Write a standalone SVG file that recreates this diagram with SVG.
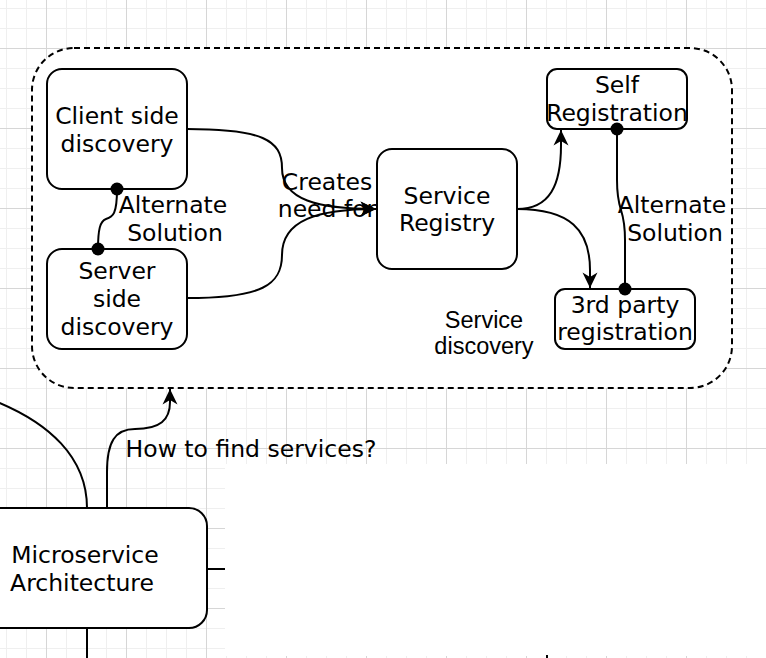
<svg xmlns="http://www.w3.org/2000/svg" width="766" height="658" viewBox="0 0 766 658">
<defs>
<style>
.t{font-family:"DejaVu Sans",Verdana,sans-serif;font-size:23.5px;text-anchor:middle;fill:#000}
.h{font-family:"Liberation Sans",Arial,sans-serif;font-size:23.5px;text-anchor:middle;fill:#000}
.box{fill:#fff;stroke:#000;stroke-width:2}
.e{fill:none;stroke:#000;stroke-width:2}
.dot{fill:#000}
</style>
<pattern id="grid" patternUnits="userSpaceOnUse" x="46" y="48" width="80" height="80">
<path d="M20.5,0V80M40.5,0V80M60.5,0V80M0,20.5H80M0,40.5H80M0,60.5H80" stroke="#efefef" stroke-width="1" fill="none"/>
<path d="M0.5,0V80M0,0.5H80" stroke="#d6d6d6" stroke-width="1" fill="none"/>
</pattern>
<marker id="arr" markerUnits="userSpaceOnUse" markerWidth="17" markerHeight="17" viewBox="0 0 17 17" refX="16" refY="8.5" orient="auto">
<path d="M0.5,1 L16,8.5 L0.5,16 L5,8.5 Z" fill="#000"/>
</marker>
</defs>
<rect width="766" height="658" fill="#fff"/>
<rect width="766" height="658" fill="url(#grid)"/>

<g id="container">
<rect x="32" y="48" width="700" height="340" rx="42" ry="42" fill="#fff" stroke="#000" stroke-width="2" stroke-dasharray="6 4"/>
<text class="h" x="484" y="328">Service</text>
<text class="h" x="484" y="354">discovery</text>
</g>

<g id="connectors">
<path class="e" d="M187,129 C262,129 282,140 282,168 C282,200 318,209 376,209" marker-end="url(#arr)"/>
<path class="e" d="M187,298 C262,298 282,285 282,255 C282,220 318,209 376,209" marker-end="url(#arr)"/>
<path class="e" d="M117,189 C117,214 113,217 106,219 C100,221 98,230 98,249"/>
<path class="e" d="M517,209 C550,209 561,185 561,145 L561,130" marker-end="url(#arr)"/>
<path class="e" d="M517,209 C570,209 590,230 590,270 L590,288" marker-end="url(#arr)"/>
<path class="e" d="M617,129 L617,180 C617,215 625,205 625,240 L625,289"/>
<path class="e" d="M-10,399 C50,422 87,458 87,508"/>
<path class="e" d="M107,508 L107,472 C107,442 115,429 135,429 C160,429 170,420 170,402 L170,389" marker-end="url(#arr)"/>
<path class="e" d="M207,569 L240,569"/>
<path class="e" d="M87,628 L87,660"/>
<text class="t" x="327" y="190">Creates</text>
<text class="t" x="327" y="217">need for</text>
<text class="t" x="173" y="213">Alternate</text>
<text class="t" x="175" y="241">Solution</text>
<text class="t" x="672" y="213">Alternate</text>
<text class="t" x="675" y="241">Solution</text>
<text class="t" x="251" y="457">How to find services?</text>
</g>

<g id="client-side">
<rect class="box" x="47" y="69" width="140" height="120" rx="15"/>
<text class="t" x="117" y="124">Client side</text>
<text class="t" x="117" y="152">discovery</text>
</g>
<g id="server-side">
<rect class="box" x="47" y="249" width="140" height="100" rx="15"/>
<text class="t" x="117" y="279">Server</text>
<text class="t" x="117" y="307">side</text>
<text class="t" x="117" y="335">discovery</text>
</g>
<g id="service-registry">
<rect class="box" x="377" y="149" width="140" height="120" rx="15"/>
<text class="t" x="447" y="204">Service</text>
<text class="t" x="447" y="231">Registry</text>
</g>
<g id="self-registration">
<rect class="box" x="547" y="69" width="140" height="60" rx="10"/>
<text class="t" x="617" y="93">Self</text>
<text class="t" x="617" y="121">Registration</text>
</g>
<g id="third-party">
<rect class="box" x="555" y="289" width="140" height="60" rx="10"/>
<text class="t" x="625" y="313">3rd party</text>
<text class="t" x="625" y="340">registration</text>
</g>
<g id="microservice">
<rect class="box" x="-39" y="508" width="246" height="120" rx="18"/>
<text class="t" x="85" y="563">Microservice</text>
<text class="t" x="82" y="591">Architecture</text>
</g>

<g id="connector-ends">
<circle class="dot" cx="117" cy="189" r="6.5"/>
<circle class="dot" cx="98" cy="249" r="6.5"/>
<circle class="dot" cx="617" cy="129" r="6.5"/>
<circle class="dot" cx="625" cy="289" r="6.5"/>
</g>

<rect x="225" y="464" width="541" height="192" fill="#fff"/>
<rect x="546" y="655" width="2" height="3" fill="#000"/>
</svg>
